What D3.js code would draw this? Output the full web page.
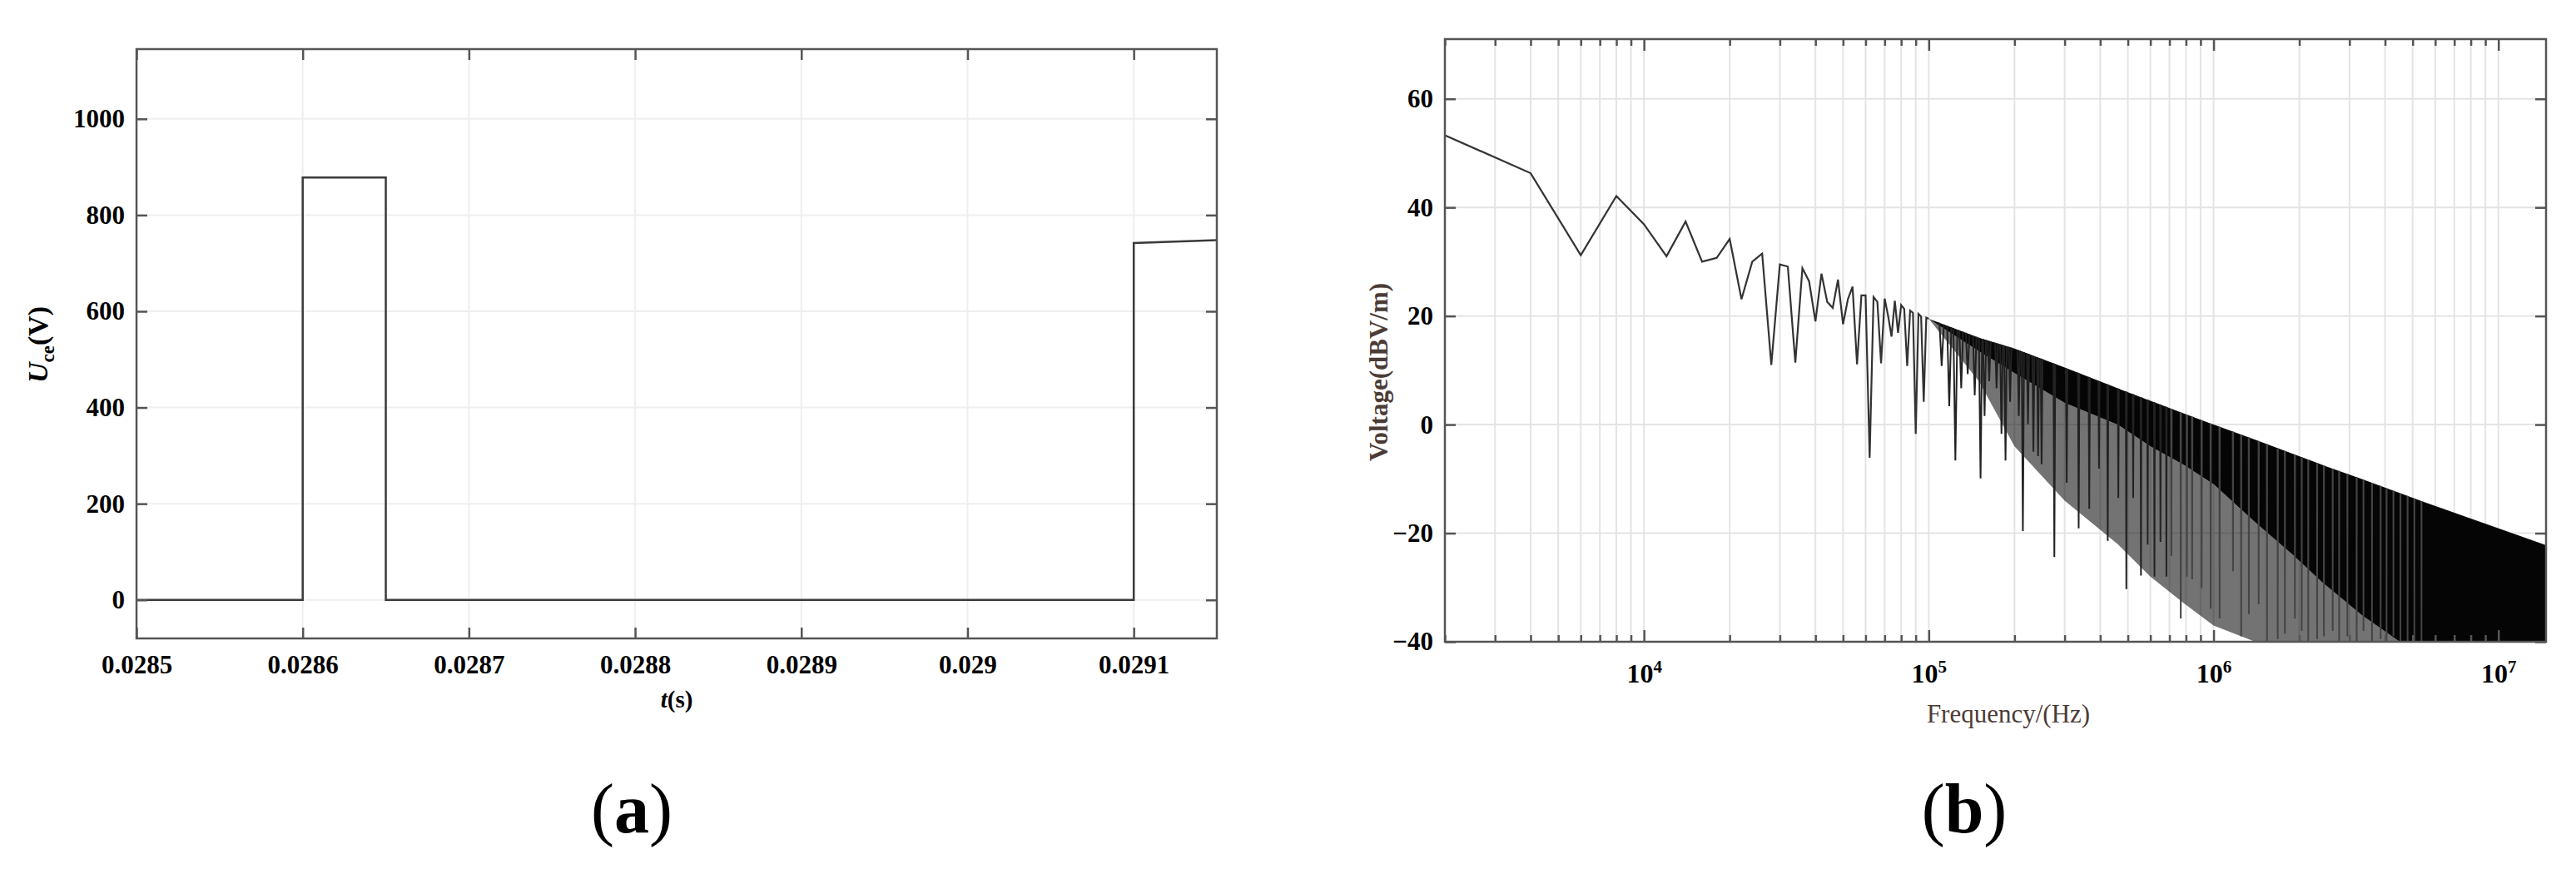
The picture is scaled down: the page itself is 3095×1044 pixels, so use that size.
<!DOCTYPE html>
<html>
<head>
<meta charset="utf-8">
<script src="https://cdn.jsdelivr.net/npm/d3@7"></script>
<style>
  body { margin: 0; background: #fff; }
  svg { display: block; }
</style>
</head>
<body>
<svg id="fig" width="3095" height="1044"></svg>
<script>
// ---- (a) Uce waveform
const tLimits = [0.0285, 0.02915];
const uLimits = [-80, 1145];
const pulseT = [0.0285, 0.0286, 0.0286, 0.02865, 0.02865, 0.0291, 0.0291, 0.02915];
const pulseU = [0, 0, 878, 878, 0, 0, 742, 748];
const tTicks = [0.0285, 0.0286, 0.0287, 0.0288, 0.0289, 0.029, 0.0291];
const tTickLabels = ["0.0285", "0.0286", "0.0287", "0.0288", "0.0289", "0.029", "0.0291"];
const uTicks = [0, 200, 400, 600, 800, 1000];

// ---- (b) spectrum
const fLimits = [2000, 1.47e7];
const vLimits = [-40, 71];
const vTicks = [-40, -20, 0, 20, 40, 60];
const decadeTicks = [1e4, 1e5, 1e6, 1e7];
const decadeExp = ["4", "5", "6", "7"];

// harmonics read one by one (kHz, dBV/m)
const harmKHz = [2, 4, 6, 8, 10, 12, 14, 16, 18, 20, 22, 24, 26, 28, 30, 32, 34, 36, 38, 40,
  42, 44, 46, 48, 50, 52, 54, 56, 58, 60, 62, 64, 66, 68, 70, 72, 74, 76, 78, 80,
  82, 84, 86, 88, 90, 92, 94, 96, 98, 100];
const harmDb = [53.3, 46.3, 31.2, 42.1, 36.9, 31.0, 37.4, 30.0, 30.7, 34.2, 23.1, 30.0, 31.5, 11.0, 29.5, 29.1, 11.4, 28.8, 26.4, 19.0,
  27.8, 22.6, 21.5, 26.7, 18.5, 23.1, 25.4, 11.1, 23.8, 23.8, -6.1, 23.5, 22.6, 11.3, 23.2, 20.0, 16.2, 22.8, 16.9, 22.0,
  21.3, 10.8, 21.0, 20.6, -1.7, 20.4, 19.9, 4.2, 19.7, 19.5];

// dense part above 100 kHz: top envelope, lower edge of the solid band, lower edge of the grey haze
const shadeKHz = [100, 150, 200, 300, 460, 600, 790, 1000, 1400, 1900, 2400, 3300, 4500, 5500, 14700];
const topDb =    [19.5, 16.0, 14.0, 10.5, 6.7, 4.4, 2.0, 0.0, -2.8, -5.4, -7.4, -10.0, -12.6, -14.3, -22.2];
const bandDb =   [19.5, 13.5, 9.5, 4.0, 0.0, -4.0, -7.5, -11.0, -18.0, -24.0, -29.0, -35.0, -40, -40, -40];
const hazeDb =   [19.5, 8.0, -4.0, -14.0, -22.0, -28.0, -33.0, -37.0, -40, -40, -40, -40, -40, -40, -40];

// visible deep nulls (kHz, dBV/m)
const spikeKHz = [111, 118, 124, 130, 137, 145, 152, 157, 163, 173,
  180, 186, 193, 207, 214, 223, 233, 242, 249, 276,
  305, 336, 366, 396, 425, 463, 494, 522, 556, 587,
  620, 651, 683, 711, 767, 806, 841, 908, 977, 1050,
  1170, 1250, 1330, 1440, 1540, 1680, 1780, 1930, 2040, 2150,
  2310, 2440, 2620, 2760, 2950, 3180, 3360, 3600, 3860, 4050,
  4280, 4530, 4800, 5070, 5370];
const spikeDb = [10.8, 3.4, -6.6, 6.7, 9.3, 5.4, -9.9, 1.6, 8.0, 6.7,
  -1.7, -6.6, 4.2, 1.6, -19.6, 0.1, -5.0, -5.8, -7.3, -24.4,
  -10.7, -19.1, -15.5, -8.1, -21.4, -13.5, -30.3, -13.5, -27.8, -22.1,
  -28.0, -21.6, -28.0, -24.2, -35.7, -28.0, -28.5, -30.1, -33.9, -35.7,
  -27.0, -39.0, -34.9, -33.1, -40, -39.5, -38.5, -35.7, -38, -40,
  -39.5, -39, -38, -40, -39, -40, -38, -40, -39.5, -40,
  -39, -40, -40, -40, -40];

const serif = "'Liberation Serif', 'Times New Roman', serif";
const svg = d3.select("#fig");

function styleAxis(g, labelSize) {
  g.attr("font-family", serif).attr("font-size", labelSize).attr("font-weight", "bold");
  g.select(".domain").remove();
  g.selectAll(".tick line").attr("stroke", "#555").attr("stroke-width", 2.5);
  g.selectAll(".tick text").attr("fill", "#000");
}

// ================= panel (a) =================
const boxA = { l: 164, r: 1462, t: 59, b: 767 };
const xA = d3.scaleLinear().domain(tLimits).range([boxA.l, boxA.r]);
const yA = d3.scaleLinear().domain(uLimits).range([boxA.b, boxA.t]);
const gA = svg.append("g");

gA.append("g").selectAll("line").data(tTicks).join("line")
  .attr("x1", d => xA(d)).attr("x2", d => xA(d))
  .attr("y1", boxA.t).attr("y2", boxA.b)
  .attr("stroke", "#efefef").attr("stroke-width", 2);
gA.append("g").selectAll("line").data(uTicks).join("line")
  .attr("x1", boxA.l).attr("x2", boxA.r)
  .attr("y1", d => yA(d)).attr("y2", d => yA(d))
  .attr("stroke", "#efefef").attr("stroke-width", 2);

gA.append("path")
  .datum(d3.zip(pulseT, pulseU))
  .attr("d", d3.line().x(d => xA(d[0])).y(d => yA(d[1])))
  .attr("fill", "none").attr("stroke", "#3a3a3a").attr("stroke-width", 2.5);

gA.append("g").attr("transform", `translate(0,${boxA.b})`)
  .call(d3.axisBottom(xA).tickValues(tTicks).tickSize(-13).tickPadding(20)
    .tickFormat((d, i) => tTickLabels[i]))
  .call(g => styleAxis(g, 31));
gA.append("g").attr("transform", `translate(0,${boxA.t})`)
  .call(d3.axisTop(xA).tickValues(tTicks).tickSize(-13).tickFormat(""))
  .call(g => styleAxis(g, 31));
gA.append("g").attr("transform", `translate(${boxA.l},0)`)
  .call(d3.axisLeft(yA).tickValues(uTicks).tickSize(-13).tickPadding(14).tickFormat(d3.format("d")))
  .call(g => styleAxis(g, 31));
gA.append("g").attr("transform", `translate(${boxA.r},0)`)
  .call(d3.axisRight(yA).tickValues(uTicks).tickSize(-13).tickFormat(""))
  .call(g => styleAxis(g, 31));

gA.append("rect")
  .attr("x", boxA.l).attr("y", boxA.t)
  .attr("width", boxA.r - boxA.l).attr("height", boxA.b - boxA.t)
  .attr("fill", "none").attr("stroke", "#555").attr("stroke-width", 2.5);

const uLab = gA.append("text")
  .attr("transform", "translate(57,414) rotate(-90)")
  .attr("text-anchor", "middle")
  .attr("font-family", serif).attr("font-weight", "bold").attr("font-size", 34);
uLab.append("tspan").attr("font-style", "italic").text("U");
uLab.append("tspan").attr("font-size", 23).attr("dy", 8).text("ce");
uLab.append("tspan").attr("dy", -8).text("(V)");

const tLab = gA.append("text")
  .attr("x", 813).attr("y", 850).attr("text-anchor", "middle")
  .attr("font-family", serif).attr("font-weight", "bold").attr("font-size", 29);
tLab.append("tspan").attr("font-style", "italic").text("t");
tLab.append("tspan").text("(s)");

const capA = gA.append("text")
  .attr("x", 759).attr("y", 1000).attr("text-anchor", "middle")
  .attr("font-family", serif).attr("font-size", 84);
capA.append("tspan").text("(");
capA.append("tspan").attr("font-weight", "bold").text("a");
capA.append("tspan").text(")");

// ================= panel (b) =================
const boxB = { l: 1736, r: 3059, t: 47, b: 771 };
const xB = d3.scaleLog().domain(fLimits).range([boxB.l, boxB.r]);
const yB = d3.scaleLinear().domain(vLimits).range([boxB.b, boxB.t]);
const gB = svg.append("g");

const minorTicks = xB.ticks().filter(d => !decadeTicks.includes(d));

svg.append("defs").append("clipPath").attr("id", "clipB")
  .append("rect").attr("x", boxB.l).attr("y", boxB.t)
  .attr("width", boxB.r - boxB.l).attr("height", boxB.b - boxB.t);

gB.append("g").selectAll("line").data(xB.ticks()).join("line")
  .attr("x1", d => xB(d)).attr("x2", d => xB(d))
  .attr("y1", boxB.t).attr("y2", boxB.b)
  .attr("stroke", "#e4e4e4").attr("stroke-width", 2);
gB.append("g").selectAll("line").data(vTicks).join("line")
  .attr("x1", boxB.l).attr("x2", boxB.r)
  .attr("y1", d => yB(d)).attr("y2", d => yB(d))
  .attr("stroke", "#e4e4e4").attr("stroke-width", 2);

const plotB = gB.append("g").attr("clip-path", "url(#clipB)");

const shade = shadeKHz.map((f, i) => ({ f: f * 1000, top: topDb[i], band: bandDb[i], haze: hazeDb[i] }));
plotB.append("path").datum(shade)
  .attr("d", d3.area().x(d => xB(d.f)).y0(d => yB(d.haze)).y1(d => yB(d.band)))
  .attr("fill", "#000").attr("fill-opacity", 0.55);
plotB.append("path").datum(shade)
  .attr("d", d3.area().x(d => xB(d.f)).y0(d => yB(d.band)).y1(d => yB(d.top)))
  .attr("fill", "#050505");

// each null drawn as a notch between its neighbouring harmonics (2 kHz apart)
const topAt = d3.scaleLog().domain(shadeKHz).range(topDb);
const notch = d3.line().x(d => xB(d[0] * 1000)).y(d => yB(d[1]));
plotB.append("g").selectAll("path")
  .data(d3.zip(spikeKHz, spikeDb)).join("path")
  .attr("d", d => notch([[d[0] - 2, topAt(d[0] - 2)], [d[0], d[1]], [d[0] + 2, topAt(d[0] + 2)]]))
  .attr("fill", "none")
  .attr("stroke", d => d[0] > 700 ? "#444" : "#222")
  .attr("stroke-width", 2);

plotB.append("path")
  .datum(d3.zip(harmKHz, harmDb))
  .attr("d", d3.line().x(d => xB(d[0] * 1000)).y(d => yB(d[1])))
  .attr("fill", "none").attr("stroke", "#333").attr("stroke-width", 2.2);

gB.append("g").attr("transform", `translate(0,${boxB.b})`)
  .call(d3.axisBottom(xB).tickValues(minorTicks).tickSize(-8).tickFormat(""))
  .call(g => styleAxis(g, 32));
gB.append("g").attr("transform", `translate(0,${boxB.b})`)
  .call(d3.axisBottom(xB).tickValues(decadeTicks).tickSize(-14).tickPadding(26).tickFormat(() => "10"))
  .call(g => styleAxis(g, 32))
  .call(g => g.selectAll(".tick text").append("tspan")
    .attr("dy", "-0.55em").attr("font-size", 21)
    .text((d, i) => decadeExp[i]));
gB.append("g").attr("transform", `translate(0,${boxB.t})`)
  .call(d3.axisTop(xB).tickValues(minorTicks).tickSize(-8).tickFormat(""))
  .call(g => styleAxis(g, 32));
gB.append("g").attr("transform", `translate(0,${boxB.t})`)
  .call(d3.axisTop(xB).tickValues(decadeTicks).tickSize(-14).tickFormat(""))
  .call(g => styleAxis(g, 32));
gB.append("g").attr("transform", `translate(${boxB.l},0)`)
  .call(d3.axisLeft(yB).tickValues(vTicks).tickSize(-13).tickPadding(14))
  .call(g => styleAxis(g, 31));
gB.append("g").attr("transform", `translate(${boxB.r},0)`)
  .call(d3.axisRight(yB).tickValues(vTicks).tickSize(-13).tickFormat(""))
  .call(g => styleAxis(g, 31));

gB.append("rect")
  .attr("x", boxB.l).attr("y", boxB.t)
  .attr("width", boxB.r - boxB.l).attr("height", boxB.b - boxB.t)
  .attr("fill", "none").attr("stroke", "#555").attr("stroke-width", 2.5);

gB.append("text")
  .attr("transform", "translate(1667,447) rotate(-90)")
  .attr("text-anchor", "middle")
  .attr("font-family", serif).attr("font-weight", "bold").attr("font-size", 31)
  .attr("fill", "#4b3c36")
  .text("Voltage(dBV/m)");

gB.append("text")
  .attr("x", 2413).attr("y", 868).attr("text-anchor", "middle")
  .attr("font-family", serif).attr("font-size", 31)
  .attr("fill", "#4b3c36")
  .text("Frequency/(Hz)");

const capB = gB.append("text")
  .attr("x", 2360).attr("y", 1000).attr("text-anchor", "middle")
  .attr("font-family", serif).attr("font-size", 84);
capB.append("tspan").text("(");
capB.append("tspan").attr("font-weight", "bold").text("b");
capB.append("tspan").text(")");
</script>
</body>
</html>
